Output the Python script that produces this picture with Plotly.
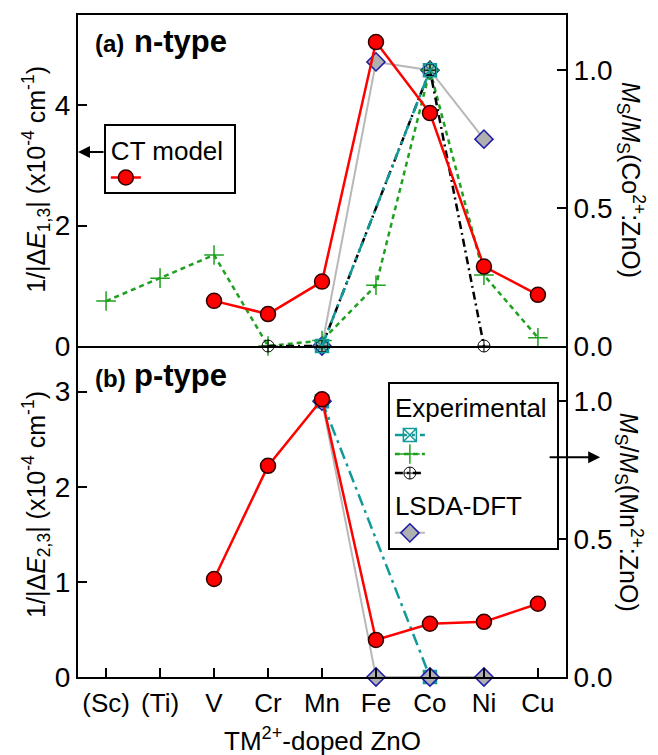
import plotly.graph_objects as go

categories = ["(Sc)", "(Ti)", "V", "Cr", "Mn", "Fe", "Co", "Ni", "Cu"]

# (a) n-type
ct_n = [None, None, 0.75, 0.53, 1.07, 5.05, 3.87, 1.32, 0.85]
exp1_n = [None, None, None, None, 0.0, None, 1.0, None, None]          # teal squares
exp2_n = [0.163, 0.246, 0.33, 0.0, 0.02, 0.22, 1.0, 0.257, 0.03]     # green crosses
exp3_n = [None, None, None, 0.0, 0.0, None, 1.0, 0.0, None]           # black circle-plus
dft_n = [None, None, None, None, 0.0, 1.03, 1.0, 0.75, None]

# (b) p-type
ct_p = [None, None, 1.03, 2.22, 2.92, 0.39, 0.56, 0.58, 0.77]
exp1_p = [None, None, None, None, 1.0, None, 0.0, None, None]
dft_p = [None, None, None, None, 1.0, 0.0, 0.0, 0.0, None]

FONT = "Liberation Sans, Arial, sans-serif"
RED = "#ff0000"
TEAL = "#129a9a"
GREEN = "#1fa01f"
GREY = "#b8b8b8"
NAVY = "#1c1ca8"

fig = go.Figure()

def teal(y, xa, ya, show):
    return go.Scatter(x=categories, y=y, xaxis=xa, yaxis=ya, mode="lines+markers",
                      connectgaps=True, cliponaxis=False,
                      line=dict(color=TEAL, width=2.5, dash="12px,5px,3px,5px"),
                      marker=dict(symbol="square-x-open", size=13, color=TEAL, line=dict(width=1.5, color=TEAL)),
                      name="", showlegend=show, legend="legend2", legendgroup="exp",
                      legendgrouptitle=dict(text="Experimental"), legendrank=1)

def grey(y, xa, ya, show):
    return go.Scatter(x=categories, y=y, xaxis=xa, yaxis=ya, mode="lines+markers",
                      connectgaps=True, cliponaxis=False,
                      line=dict(color=GREY, width=2),
                      marker=dict(symbol="diamond", size=14, color="#b0b0b0", line=dict(width=1.5, color=NAVY)),
                      name="", showlegend=show, legend="legend2", legendgroup="dft",
                      legendgrouptitle=dict(text="LSDA-DFT"), legendrank=4)

def red(y, xa, ya, show):
    return go.Scatter(x=categories, y=y, xaxis=xa, yaxis=ya, mode="lines+markers",
                      connectgaps=False, cliponaxis=False,
                      line=dict(color=RED, width=2.5),
                      marker=dict(symbol="circle", size=15, color=RED, line=dict(width=1.5, color="#300000")),
                      name="", showlegend=show, legend="legend", legendgroup="ct",
                      legendgrouptitle=dict(text="CT model"))

# top panel
fig.add_trace(grey(dft_n, "x2", "y", True))
fig.add_trace(go.Scatter(x=categories, y=exp2_n, xaxis="x2", yaxis="y", mode="lines+markers",
                         connectgaps=True, cliponaxis=False,
                         line=dict(color=GREEN, width=2.5, dash="5px,4px"),
                         marker=dict(symbol="cross-thin-open", size=14, color=GREEN, line=dict(width=1.5, color=GREEN)),
                         name="", showlegend=True, legend="legend2", legendgroup="exp", legendrank=2))
fig.add_trace(go.Scatter(x=categories, y=exp3_n, xaxis="x2", yaxis="y", mode="lines+markers",
                         connectgaps=True, cliponaxis=False,
                         line=dict(color="black", width=2.5, dash="8px,4px,2px,4px"),
                         marker=dict(symbol="circle-cross-open", size=12, color="black", line=dict(width=1, color="black")),
                         name="", showlegend=True, legend="legend2", legendgroup="exp", legendrank=3))
fig.add_trace(teal(exp1_n, "x2", "y", True))
fig.add_trace(red(ct_n, "x2", "y2", True))

# bottom panel
fig.add_trace(teal(exp1_p, "x", "y3", False))
fig.add_trace(grey(dft_p, "x", "y3", False))
fig.add_trace(red(ct_p, "x", "y4", False))

axis_common = dict(showline=True, linewidth=2, linecolor="black", showgrid=False, zeroline=False,
                   tickfont=dict(size=28, color="black", family=FONT), tickwidth=2, tickcolor="black",
                   ticks="inside", ticklen=9)

xr = [-0.52, 8.52]
fig.update_layout(
    width=658, height=755,
    margin=dict(l=78, r=92, t=15, b=78),
    paper_bgcolor="white", plot_bgcolor="white",
    font=dict(family=FONT, size=24, color="black"),
    xaxis=dict(axis_common, domain=[0, 1], anchor="y3", range=xr, type="category",
               categoryorder="array", categoryarray=categories,
               tickfont=dict(size=26, color="black", family=FONT), mirror=False, ticklabelstandoff=2),
    xaxis2=dict(axis_common, domain=[0, 1], anchor="y", range=xr, type="category",
                categoryorder="array", categoryarray=categories, matches="x",
                showticklabels=False, ticks="", mirror=True),
    yaxis=dict(axis_common, domain=[0.5, 1], anchor="x2", side="right", range=[0, 1.2],
               tickvals=[0, 0.5, 1.0], ticktext=["0.0", "0.5", "1.0"]),
    yaxis2=dict(axis_common, overlaying="y", anchor="x2", side="left", range=[0, 5.5],
                tickvals=[0, 2, 4]),
    yaxis3=dict(axis_common, domain=[0, 0.5], anchor="x", side="right", range=[0, 1.2],
                tickvals=[0, 0.5, 1.0], ticktext=["0.0", "0.5", "1.0"]),
    yaxis4=dict(axis_common, overlaying="y3", anchor="x", side="left", range=[0, 3.48],
                tickvals=[0, 1, 2, 3]),
    legend=dict(x=0.053, y=0.835, xanchor="left", yanchor="top", bgcolor="white",
                bordercolor="black", borderwidth=2, font=dict(size=12),
                grouptitlefont=dict(size=26, family=FONT, color="black"), tracegroupgap=4),
    legend2=dict(x=0.635, y=0.446, xanchor="left", yanchor="top", bgcolor="white",
                 bordercolor="black", borderwidth=2, font=dict(size=10), traceorder="grouped",
                 grouptitlefont=dict(size=26, family=FONT, color="black"), tracegroupgap=4),
)

def px_x(px):
    return (px - 78) / 488.0

def px_y(py):
    return (677 - py) / 662.0

ann = [
    dict(text="<b>(a)</b>", x=px_x(93), y=px_y(43.5), xanchor="left", yanchor="middle", font=dict(size=24)),
    dict(text="<b>n-type</b>", x=px_x(132), y=px_y(41), xanchor="left", yanchor="middle", font=dict(size=31)),
    dict(text="<b>(b)</b>", x=px_x(93), y=px_y(378.5), xanchor="left", yanchor="middle", font=dict(size=24)),
    dict(text="<b>p-type</b>", x=px_x(132), y=px_y(376), xanchor="left", yanchor="middle", font=dict(size=31)),
    dict(text="1/|Δ<i>E</i><sub>1,3</sub>| (x10<sup>-4</sup> cm<sup>-1</sup>)", x=-0.086, y=0.751,
         textangle=-90, xanchor="center", yanchor="middle", font=dict(size=25)),
    dict(text="1/|Δ<i>E</i><sub>2,3</sub>| (x10<sup>-4</sup> cm<sup>-1</sup>)", x=-0.086, y=0.26,
         textangle=-90, xanchor="center", yanchor="middle", font=dict(size=25)),
    dict(text="<i>M</i><sub>S</sub>/<i>M</i><sub>S</sub>(Co<sup>2+</sup>:ZnO)", x=1.133, y=0.751,
         textangle=90, xanchor="center", yanchor="middle", font=dict(size=25)),
    dict(text="<i>M</i><sub>S</sub>/<i>M</i><sub>S</sub>(Mn<sup>2+</sup>:ZnO)", x=1.129, y=0.248,
         textangle=90, xanchor="center", yanchor="middle", font=dict(size=25)),
    dict(text="TM<sup>2+</sup>-doped ZnO", x=0.5, y=-0.095, xanchor="center", yanchor="middle",
         font=dict(size=26)),
    # arrows from legends to axes
    dict(text="", x=0.0, y=0.793, ax=27, ay=0, showarrow=True, arrowhead=2, arrowsize=1.2,
         arrowwidth=2, arrowcolor="black"),
    dict(text="", x=1.07, y=0.332, ax=-52, ay=0, showarrow=True, arrowhead=2, arrowsize=1.2,
         arrowwidth=2, arrowcolor="black"),
]
for a in ann:
    a.setdefault("showarrow", False)
    a["xref"] = "paper"
    a["yref"] = "paper"
    fig.add_annotation(**a)

fig.write_html("out.html")
